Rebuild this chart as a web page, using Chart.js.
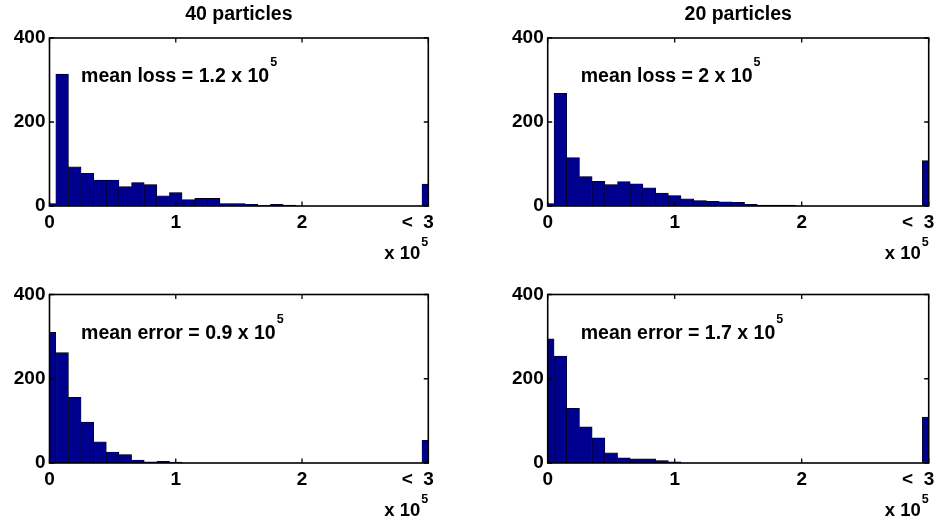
<!DOCTYPE html>
<html>
<head>
<meta charset="utf-8">
<script src="https://cdn.jsdelivr.net/npm/chart.js@4.4.0/dist/chart.umd.min.js"></script>
<style>
html,body{margin:0;padding:0;background:#fff;width:936px;height:521px;overflow:hidden}
.p{position:absolute}
canvas{display:block}
</style>
</head>
<body>
<div class="p" style="left:0;top:0"><canvas id="c0" width="468" height="262"></canvas></div>
<div class="p" style="left:468px;top:0"><canvas id="c1" width="468" height="262"></canvas></div>
<div class="p" style="left:0;top:262px"><canvas id="c2" width="468" height="259"></canvas></div>
<div class="p" style="left:468px;top:262px"><canvas id="c3" width="468" height="259"></canvas></div>
<script>
// ---- data (x in units of 10^5) ----
const binCenters = [0,0.1,0.2,0.3,0.4,0.5,0.6,0.7,0.8,0.9,1.0,1.1,1.2,1.3,1.4,1.5,1.6,1.7,1.8,1.9,2.0,2.1,2.2,2.3,2.4,2.5,2.6,2.7,2.8,2.9,3.0];
const xTickLabels = ['0','1','2','<  3'];
const yTickStep = 200;
const loss40 = [6,314,93,78,62,62,46,56,51,24,32,15,18,18,6,6,4,1,4,2,0,0,0,0,0,0,0,0,0,0,52];
const loss20 = [6,268,115,70,59,51,58,53,43,31,25,17,13,11,10,9,4,2,2,2,0,0,0,0,0,0,0,0,0,0,108];
const err40  = [310,262,156,97,50,26,20,7,3,4,2,0,0,0,0,0,0,0,0,0,0,0,0,0,0,0,0,0,0,0,54];
const err20  = [295,254,130,86,60,24,12,10,10,6,3,0,0,0,0,0,0,0,0,0,0,0,0,0,0,0,0,0,0,0,109];
const titles = ['40 particles','20 particles','',''];
const notes = ['mean loss = 1.2 x 10','mean loss = 2 x 10','mean error = 0.9 x 10','mean error = 1.7 x 10'];
const noteExp = '5';
const multiplierBase = 'x 10';
const multiplierExp = '5';

// ---- styles / layout ----
const FONT = '"Liberation Sans", Arial, Helvetica, sans-serif';
const BAR = '#00008F';
const layouts = [
  {id:'c0', counts: loss40, W:468, H:262, left:49.5, right:428.3, top:38,   bottom:206, noteX:0.25},
  {id:'c1', counts: loss20, W:468, H:262, left:79.7, right:460.7, top:38,   bottom:206, noteX:0.26},
  {id:'c2', counts: err40,  W:468, H:259, left:49.5, right:428.3, top:32.5, bottom:201, noteX:0.25},
  {id:'c3', counts: err20,  W:468, H:259, left:79.7, right:460.7, top:32.5, bottom:201, noteX:0.26}
];

const framePlugin = {
  id: 'frame',
  afterDatasetsDraw(chart, args, opts) {
    const {ctx, chartArea: a, scales} = chart;
    const xs = scales.x, ys = scales.y;
    ctx.save();
    ctx.strokeStyle = '#000';
    ctx.lineWidth = 1.6;
    ctx.strokeRect(a.left, a.top, a.right - a.left, a.bottom - a.top);
    const tl = 4.5;
    ctx.lineWidth = 1.3;
    ctx.beginPath();
    xs.ticks.forEach((t, i) => {
      const px = xs.getPixelForTick(i);
      ctx.moveTo(px, a.bottom); ctx.lineTo(px, a.bottom - tl);
      ctx.moveTo(px, a.top); ctx.lineTo(px, a.top + tl);
    });
    ys.ticks.forEach((t, i) => {
      const py = ys.getPixelForTick(i);
      ctx.moveTo(a.left, py); ctx.lineTo(a.left + tl, py);
      ctx.moveTo(a.right, py); ctx.lineTo(a.right - tl, py);
    });
    ctx.stroke();

    ctx.fillStyle = '#000';
    ctx.textBaseline = 'alphabetic';
    // annotation
    ctx.textAlign = 'left';
    ctx.font = 'bold 19.5px ' + FONT;
    const nx = xs.getPixelForValue(opts.noteX), ny = ys.getPixelForValue(opts.noteY);
    ctx.fillText(opts.note, nx, ny);
    const w = ctx.measureText(opts.note).width;
    ctx.font = 'bold 12.5px ' + FONT;
    ctx.fillText(opts.exp, nx + w + 1, ny - 16);

    // axis multiplier
    const by = a.bottom + 53;
    ctx.textAlign = 'right';
    ctx.font = 'bold 12.5px ' + FONT;
    const ew = ctx.measureText(multiplierExp).width;
    ctx.fillText(multiplierExp, a.right, by - 13);
    ctx.font = 'bold 18.5px ' + FONT;
    ctx.fillText(multiplierBase, a.right - ew - 1, by);
    ctx.restore();
  }
};

layouts.forEach((L, k) => {
  const hasTitle = !!titles[k];
  const tickFont = {family: FONT, size: 19, weight: 'bold'};
  new Chart(document.getElementById(L.id), {
    type: 'bar',
    data: {
      datasets: [{
        data: binCenters.map((c, i) => ({x: c, y: L.counts[i]})),
        backgroundColor: BAR,
        borderColor: '#000',
        borderWidth: 0.6,
        barPercentage: 1,
        categoryPercentage: 1,
        clip: 0
      }]
    },
    options: {
      responsive: false,
      animation: false,
      events: [],
      layout: {padding: {left: 0, top: hasTitle ? 0 : L.top, right: L.W - L.right, bottom: 0}},
      scales: {
        x: {
          type: 'linear', min: 0, max: 3, offset: false,
          grid: {display: false, drawTicks: false},
          border: {display: false},
          ticks: {
            stepSize: 1, padding: 5, color: '#000', font: tickFont,
            maxRotation: 0, autoSkip: false,
            callback: (v) => { const i = Math.round(v); return xTickLabels[i] + (i === 3 ? '    ' : ''); }
          },
          afterFit: (s) => { s.height = L.H - L.bottom; s.paddingLeft = 0; s.paddingRight = 0; }
        },
        y: {
          type: 'linear', min: 0, max: 400,
          grid: {display: false, drawTicks: false},
          border: {display: false},
          ticks: {stepSize: yTickStep, padding: 4, color: '#000', font: tickFont},
          afterFit: (s) => { s.width = L.left; s.paddingTop = 0; s.paddingBottom = 0; }
        }
      },
      plugins: {
        legend: {display: false},
        tooltip: {enabled: false},
        title: {
          display: hasTitle, text: titles[k], fullSize: false, color: '#000',
          font: {family: FONT, size: 19.5, weight: 'bold', lineHeight: 1.2},
          padding: {top: 3, bottom: L.top - 3 - 19.5 * 1.2}
        },
        frame: {note: notes[k], exp: noteExp, noteX: L.noteX, noteY: 295}
      }
    },
    plugins: [framePlugin]
  });
});
</script>
</body>
</html>
